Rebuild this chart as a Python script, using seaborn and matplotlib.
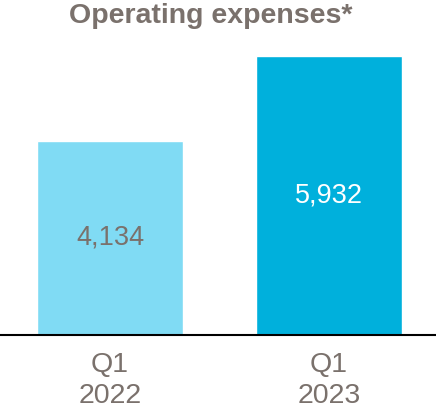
import matplotlib
matplotlib.use("Agg")
import matplotlib.pyplot as plt
import seaborn as sns
import pandas as pd

periods = ["Q1\n2022", "Q1\n2023"]
expenses = [4134, 5932]
bar_colors = ["#80DBF4", "#00B0DC"]
label_colors = ["#7A716C", "#FFFFFF"]
title = "Operating expenses*"

sns.set_theme(style="white")
plt.rcParams["font.family"] = ["Liberation Sans", "DejaVu Sans"]

df = pd.DataFrame({"period": periods, "expenses": expenses})

fig = plt.figure(figsize=(4.36, 4.12), dpi=100)
ax = fig.add_axes([0, 77 / 412, 1, 279 / 412])

sns.barplot(data=df, x="period", y="expenses", hue="period", palette=bar_colors,
            width=146 / 219, legend=False, ax=ax, saturation=1)

ax.set_xlim(-110 / 219, (436 - 110) / 219)
ax.set_ylim(0, 5932)

for cont, col in zip(ax.containers, label_colors):
    ax.bar_label(cont, labels=[f"{v:,.0f}" for v in cont.datavalues],
                 label_type="center", color=col, fontsize=19.5)

for s in ["top", "left", "right"]:
    ax.spines[s].set_visible(False)
ax.spines["bottom"].set_color("black")
ax.spines["bottom"].set_linewidth(1.5)
ax.set_yticks([])
ax.set_xlabel("")
ax.set_ylabel("")
ax.tick_params(axis="x", length=0, pad=12, labelsize=20.5, labelcolor="#7A716C")
for t in ax.get_xticklabels():
    t.set_linespacing(1.25)

fig.text(211 / 436, 1 - 16 / 412, title, ha="center", va="center",
         fontsize=20.5, fontweight="bold", color="#7A716C")

fig.savefig("out.png", dpi=100)
